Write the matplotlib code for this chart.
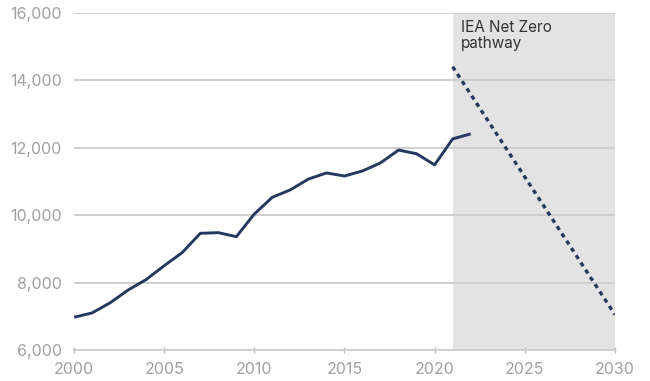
import matplotlib.pyplot as plt

# historical series
years = [2000, 2001, 2002, 2003, 2004, 2005, 2006, 2007, 2008, 2009, 2010,
         2011, 2012, 2013, 2014, 2015, 2016, 2017, 2018, 2019, 2020, 2021, 2022]
values = [6970, 7100, 7400, 7780, 8090, 8500, 8890, 9460, 9480, 9360, 10035,
          10530, 10750, 11070, 11250, 11160, 11310, 11550, 11930, 11820, 11490, 12260, 12410]

# net zero pathway
nz_years = [2021, 2030]
nz_values = [14400, 7050]

xticks = [2000, 2005, 2010, 2015, 2020, 2025, 2030]
yticks = [6000, 8000, 10000, 12000, 14000, 16000]

plt.rcParams['font.family'] = ['Inter', 'DejaVu Sans']

fig = plt.figure(figsize=(6.5, 3.81), dpi=100)
ax = fig.add_axes([0.114, 0.0814, 0.832, 0.885])

navy = '#24395f'
ax.axvspan(2021, 2030, ymin=0, ymax=1, color='#e3e3e3', zorder=0, lw=0)
for y in yticks[1:]:
    ax.axhline(y, color='#cccccc', lw=1.3, zorder=1)

ax.plot(years, values, color=navy, lw=2.1, zorder=3, solid_capstyle='butt')
ax.plot(nz_years, nz_values, color=navy, lw=2.4, ls=(0, (1.3, 1.3)), zorder=3)

ax.text(2021.45, 15800, 'IEA Net Zero\npathway', fontsize=11, color='#333333',
        va='top', ha='left', linespacing=1.1)

ax.set_xlim(2000, 2030)
ax.set_ylim(6000, 16000)
ax.set_xticks(xticks)
ax.set_yticks(yticks)
ax.set_yticklabels([f'{v:,}' for v in yticks])

for s in ['left', 'right', 'top']:
    ax.spines[s].set_visible(False)
ax.spines['bottom'].set_color('#cccccc')
ax.spines['bottom'].set_linewidth(1.3)
ax.tick_params(axis='x', colors='#a0a0a0', labelsize=11.5, direction='inout',
               length=5, width=1, pad=6)
ax.tick_params(axis='x', color='#bbbbbb')
ax.tick_params(axis='y', colors='#a0a0a0', labelsize=11.5, length=0, pad=9)

fig.savefig('out.png', dpi=100)
